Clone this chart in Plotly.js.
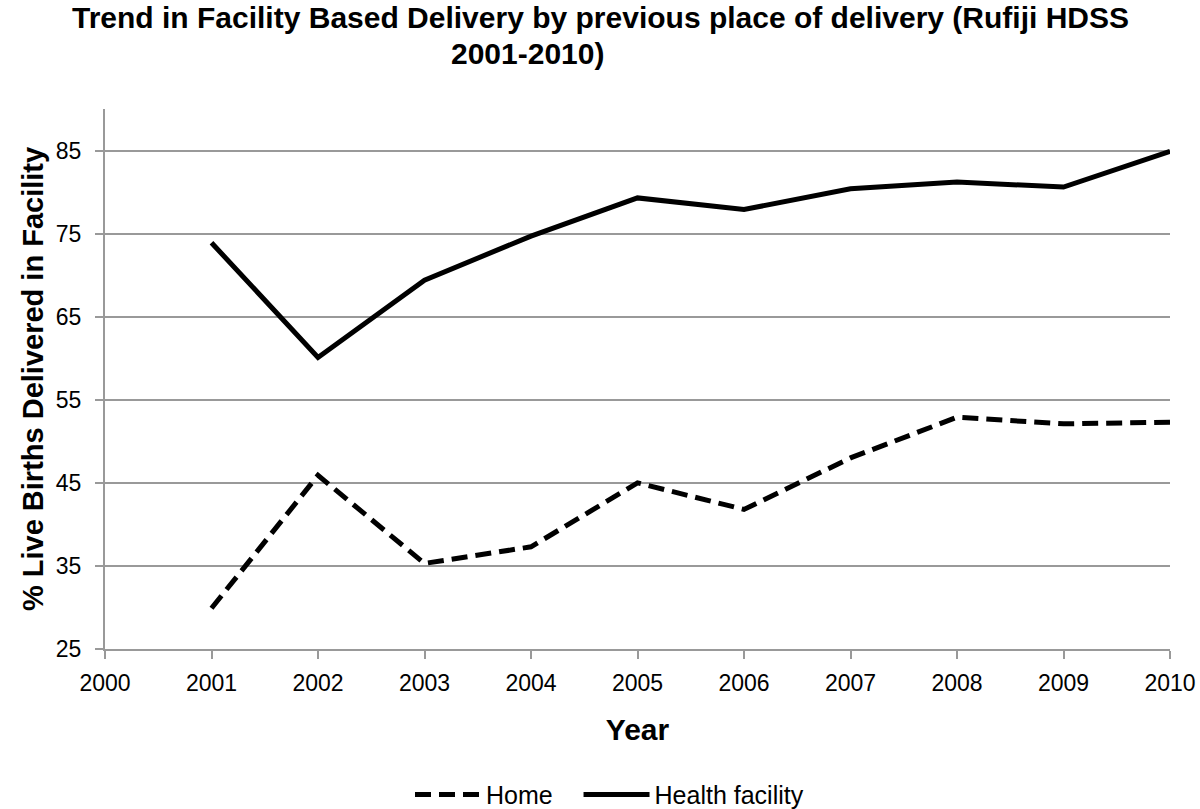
<!DOCTYPE html>
<html>
<head>
<meta charset="utf-8">
<script src="https://cdn.plot.ly/plotly-3.0.1.min.js"></script>
<style>html,body{margin:0;padding:0;background:#fff;}#chart{width:1200px;height:809px;}</style>
</head>
<body>
<div id="chart"></div>
<script>
const years = [2001, 2002, 2003, 2004, 2005, 2006, 2007, 2008, 2009, 2010];
const homeValues = [29.9, 45.9, 35.3, 37.3, 45.0, 41.8, 48.0, 52.9, 52.1, 52.3];
const facilityValues = [73.9, 60.1, 69.4, 74.7, 79.3, 77.9, 80.4, 81.2, 80.6, 84.9];
const xTicks = [2000, 2001, 2002, 2003, 2004, 2005, 2006, 2007, 2008, 2009, 2010];
const yTicks = [25, 35, 45, 55, 65, 75, 85];
const seriesNames = ['Home', 'Health facility'];

const FONT = 'Liberation Sans, Arial, sans-serif';

const traces = [
  {
    x: years, y: homeValues, name: seriesNames[0] + '\u00A0\u00A0\u00A0', type: 'scatter', mode: 'lines',
    line: {color: '#000000', width: 5, dash: '16px,8px'}
  },
  {
    x: years, y: facilityValues, name: seriesNames[1], type: 'scatter', mode: 'lines',
    line: {color: '#000000', width: 5}
  }
];

const layout = {
  width: 1200, height: 809,
  paper_bgcolor: '#ffffff', plot_bgcolor: '#ffffff',
  margin: {l: 105, r: 30, t: 109, b: 160, autoexpand: false},
  font: {family: FONT, color: '#000000'},
  showlegend: true,
  legend: {
    orientation: 'h', x: 0.5 - 28 / 1065, xanchor: 'center', xref: 'paper',
    y: -0.27, yanchor: 'middle',
    font: {family: FONT, size: 25, color: '#000000'},
    itemwidth: 66, traceorder: 'normal'
  },
  xaxis: {
    range: [2000, 2010], tickvals: xTicks, ticktext: xTicks.map(String),
    showgrid: false, zeroline: false,
    showline: true, linecolor: '#999999', linewidth: 2,
    ticks: 'outside', ticklen: 8, tickwidth: 2, tickcolor: '#999999',
    ticklabelstandoff: 4,
    tickfont: {family: FONT, size: 23, color: '#000000'},
    title: {text: '<b>Year</b>', font: {family: FONT, size: 30, color: '#000000'}, standoff: 24}
  },
  yaxis: {
    range: [25, 90], tickvals: yTicks, ticktext: yTicks.map(String),
    showgrid: true, gridcolor: '#999999', gridwidth: 2, zeroline: false,
    showline: true, linecolor: '#999999', linewidth: 2,
    ticks: 'outside', ticklen: 8, tickwidth: 2, tickcolor: '#999999',
    ticklabelstandoff: 9,
    tickfont: {family: FONT, size: 23, color: '#000000'},
    title: {text: '<b>% Live Births Delivered in Facility</b>', font: {family: FONT, size: 29, color: '#000000'}, standoff: 4}
  },
  annotations: [
    {text: '<b>Trend in Facility Based Delivery by previous place of delivery (Rufiji HDSS</b>',
     xref: 'paper', yref: 'paper', x: (600 - 105) / 1065, y: 1, yshift: 109 - 17, xanchor: 'center', yanchor: 'middle',
     showarrow: false, font: {family: FONT, size: 30, color: '#000000'}},
    {text: '<b>2001-2010)</b>',
     xref: 'paper', yref: 'paper', x: (527 - 105) / 1065, y: 1, yshift: 109 - 53, xanchor: 'center', yanchor: 'middle',
     showarrow: false, font: {family: FONT, size: 30, color: '#000000'}}
  ]
};

Plotly.newPlot('chart', traces, layout, {displayModeBar: false, staticPlot: true});
</script>
</body>
</html>
